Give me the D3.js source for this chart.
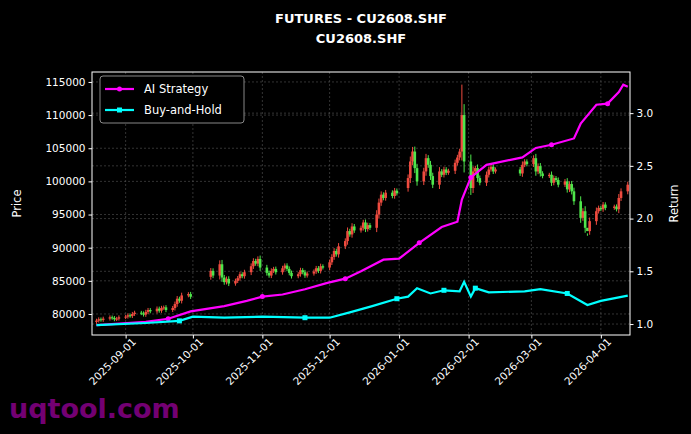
<!DOCTYPE html>
<html><head><meta charset="utf-8">
<script src="https://cdn.jsdelivr.net/npm/d3@7"></script>
<style>body{margin:0;background:#000}svg{font-family:"DejaVu Sans",sans-serif}</style>
</head><body><div id="chart"></div>
<script>
// trading days (holidays skipped)
var holidays = ["2025-10-01","2025-10-02","2025-10-03","2025-10-06","2025-10-07","2025-10-08",
  "2026-01-01","2026-01-02","2026-02-16","2026-02-17","2026-02-18","2026-02-19","2026-02-20","2026-02-23","2026-04-06"];
// daily closes (thousands)
var closes = [
  79.0,79.2,79.1,79.3,79.5,79.4,79.2,79.3,79.5,
  79.6,79.8,79.7,80.0,80.2, 80.1,79.9,80.3,80.6,80.4, 80.8,80.5,80.9,81.0,80.6, 80.9,81.5,82.3,82.0,82.8, 83.0,82.6,
  86.5,85.8, 87.5,85.5,84.8,85.3,84.6, 85.0,85.4,86.0,85.7,86.3, 87.2,88.0,87.6,88.3,87.0,
  86.2,85.8,86.5,86.8,86.3, 86.9,87.3,86.8,86.2,85.7, 86.0,86.6,86.3,85.8,86.1, 86.4,86.9,86.5,87.2,87.0,
  87.8,88.6,89.5,89.0,90.2, 91.0,92.5,92.0,93.2,92.6, 93.0,93.8,92.8,93.4,93.0, 95.0,96.8,98.0,97.5,98.3, 97.8,98.6,98.2,
  100.5,103.0,104.5,102.0,100.0, 101.5,103.5,102.5,100.8,99.5, 101.5,101.0,101.8,101.3,101.6, 102.8,103.6,104.5,110.0,103.0,
  99.0,101.5,102.0,100.5,99.8, 101.0,101.8,102.2,101.5,101.8,
  101.2,102.5,103.0,102.6,
  103.5,101.5,102.3,101.2,100.8, 101.0,99.8,100.5,100.2,99.5, 100.0,98.8,99.6,98.5,97.0, 94.5,95.5,93.0,92.5,94.0, 95.5,96.0,
  95.8,96.5,96.0, 96.2,95.8,97.5,98.5, 99.5
];
// opening gaps after holidays (thousands)
var gapOpens = { "2025-10-09": 85.6, "2026-01-05": 99.0 };
var spikeHighs = { "2026-01-29": 114.6, "2026-01-07": 105.2, "2026-03-26": 91.8 };
var aiDates = ["2025-08-19","2025-09-10","2025-09-20","2025-09-30","2025-10-15","2025-10-25","2025-11-01","2025-11-10","2025-11-20","2025-11-30","2025-12-08","2025-12-15","2025-12-25","2026-01-01","2026-01-10","2026-01-20","2026-01-27","2026-01-29","2026-02-02","2026-02-09","2026-02-25","2026-03-03","2026-03-10","2026-03-20","2026-03-23","2026-03-30","2026-04-04","2026-04-09","2026-04-11","2026-04-13"];
var aiValues = [0.99,1.02,1.05,1.12,1.17,1.22,1.26,1.28,1.33,1.39,1.43,1.50,1.61,1.62,1.77,1.92,1.97,2.18,2.39,2.51,2.58,2.67,2.70,2.76,2.90,3.08,3.09,3.20,3.27,3.25];
var bhDates = ["2025-08-19","2025-09-10","2025-09-25","2025-10-01","2025-10-15","2025-11-01","2025-11-20","2025-12-01","2025-12-10","2025-12-20","2025-12-31","2026-01-05","2026-01-09","2026-01-15","2026-01-21","2026-01-28","2026-01-30","2026-02-02","2026-02-04","2026-02-10","2026-02-26","2026-03-05","2026-03-17","2026-03-26","2026-04-01","2026-04-13"];
var bhValues = [0.99,1.01,1.03,1.07,1.06,1.07,1.06,1.06,1.11,1.17,1.24,1.26,1.34,1.29,1.32,1.31,1.40,1.26,1.34,1.30,1.31,1.33,1.29,1.18,1.22,1.27];
var xTicks = ["2025-09-01","2025-10-01","2025-11-01","2025-12-01","2026-01-01","2026-02-01","2026-03-01","2026-04-01"];

var parse = d3.timeParse("%Y-%m-%d"), fmt = d3.timeFormat("%Y-%m-%d");
var days = [];
for (var d = parse("2025-08-19"); d <= parse("2026-04-13"); d = d3.timeDay.offset(d, 1)) {
  if (d.getDay() === 0 || d.getDay() === 6 || holidays.indexOf(fmt(d)) >= 0) continue;
  days.push(new Date(d));
}
var candles = closes.map(function (c, i) {
  var key = fmt(days[i]);
  var o = gapOpens[key] || (i === 0 ? c - 0.2 : closes[i - 1]);
  var pad = 0.25 + 0.2 * Math.abs(c - o);
  return { date: days[i], o: o * 1000, c: c * 1000,
    h: (spikeHighs[key] || Math.max(o, c) + pad) * 1000, l: (Math.min(o, c) - pad) * 1000 };
});

var margin = { top: 72, right: 61, bottom: 99, left: 92 },
  width = 691 - margin.left - margin.right,
  height = 434 - margin.top - margin.bottom;

var svg = d3.select("#chart").append("svg").attr("width", 691).attr("height", 434)
  .style("background", "#000");
var g = svg.append("g").attr("transform", "translate(" + margin.left + "," + margin.top + ")");

var x = d3.scaleTime().domain([parse("2025-08-17"), parse("2026-04-14")]).range([0, width]);
var y = d3.scaleLinear().domain([76830, 116500]).range([height, 0]);
var y2 = d3.scaleLinear().domain([0.896, 3.39]).range([height, 0]);

// grid
var grid = g.append("g").attr("stroke", "#555").attr("stroke-dasharray", "2,2").attr("stroke-width", 0.6);
xTicks.forEach(function (t) { grid.append("line").attr("x1", x(parse(t))).attr("x2", x(parse(t))).attr("y1", 0).attr("y2", height); });
d3.range(80000, 116000, 5000).forEach(function (v) { grid.append("line").attr("x1", 0).attr("x2", width).attr("y1", y(v)).attr("y2", y(v)); });
[1.0, 1.5, 2.0, 2.5, 3.0].forEach(function (v) { grid.append("line").attr("x1", 0).attr("x2", width).attr("y1", y2(v)).attr("y2", y2(v)); });

// candles (red up, green down)
var cg = g.append("g");
candles.forEach(function (c) {
  var col = c.c >= c.o ? "#ef4b3f" : "#4ee64b";
  var cx = x(c.date);
  cg.append("line").attr("x1", cx).attr("x2", cx).attr("y1", y(c.h)).attr("y2", y(c.l)).attr("stroke", col).attr("stroke-width", 1);
  cg.append("rect").attr("x", cx - 1.3).attr("width", 2.6)
    .attr("y", y(Math.max(c.o, c.c))).attr("height", Math.max(1, Math.abs(y(c.o) - y(c.c)))).attr("fill", col);
});

function drawLine(dates, vals, col, shape) {
  var pts = dates.map(function (d, i) { return [x(parse(d)), y2(vals[i])]; });
  g.append("path").attr("d", d3.line()(pts)).attr("fill", "none").attr("stroke", col).attr("stroke-width", 2.2);
  pts.forEach(function (p, i) {
    if (i % 4 !== 2) return;
    if (shape === "circle") g.append("circle").attr("cx", p[0]).attr("cy", p[1]).attr("r", 2.5).attr("fill", col);
    else g.append("rect").attr("x", p[0] - 2.5).attr("y", p[1] - 2.5).attr("width", 5).attr("height", 5).attr("fill", col);
  });
}
drawLine(aiDates, aiValues, "#ff00ff", "circle");
drawLine(bhDates, bhValues, "#00ffff", "square");

// frame
g.append("rect").attr("width", width).attr("height", height).attr("fill", "none").attr("stroke", "#fff").attr("stroke-width", 1);

// axes
function style(a) { a.selectAll("path").remove(); a.selectAll("line").attr("stroke", "#fff"); a.selectAll("text").attr("fill", "#fff").style("font-size", "10.5px").style("font-family", "DejaVu Sans"); }
g.append("g").call(d3.axisLeft(y).tickValues(d3.range(80000, 116000, 5000)).tickFormat(d3.format("d")).tickSize(3.5)).call(style);
g.append("g").attr("transform", "translate(" + width + ",0)")
  .call(d3.axisRight(y2).tickValues([1.0, 1.5, 2.0, 2.5, 3.0]).tickFormat(d3.format(".1f")).tickSize(3.5)).call(style);
var xa = g.append("g").attr("transform", "translate(0," + height + ")")
  .call(d3.axisBottom(x).tickValues(xTicks.map(parse)).tickFormat(fmt).tickSize(3.5)).call(style);
xa.selectAll("text").attr("text-anchor", "end").attr("dx", "0.2em").attr("dy", "0.6em").attr("transform", "rotate(-45)");

svg.append("text").attr("transform", "translate(21," + (margin.top + height / 2) + ") rotate(-90)")
  .attr("text-anchor", "middle").attr("fill", "#fff").style("font-size", "11.5px").text("Price");
svg.append("text").attr("transform", "translate(678," + (margin.top + height / 2) + ") rotate(-90)")
  .attr("text-anchor", "middle").attr("fill", "#fff").style("font-size", "11.5px").text("Return");

// title
svg.append("text").attr("x", 361).attr("y", 23).attr("text-anchor", "middle").attr("fill", "#fff")
  .style("font-size", "13px").style("font-weight", "bold").text("FUTURES - CU2608.SHF");
svg.append("text").attr("x", 361).attr("y", 43).attr("text-anchor", "middle").attr("fill", "#fff")
  .style("font-size", "13px").style("font-weight", "bold").text("CU2608.SHF");

// legend
var lg = svg.append("g").attr("transform", "translate(100,76)");
lg.append("rect").attr("width", 144).attr("height", 47).attr("rx", 3).attr("fill", "#000").attr("stroke", "#aaa").attr("stroke-width", 0.8);
[["AI Strategy", "#ff00ff", "circle"], ["Buy-and-Hold", "#00ffff", "square"]].forEach(function (it, i) {
  var yy = 13 + i * 21;
  lg.append("line").attr("x1", 5).attr("x2", 34).attr("y1", yy).attr("y2", yy).attr("stroke", it[1]).attr("stroke-width", 2.2);
  if (it[2] === "circle") lg.append("circle").attr("cx", 19.5).attr("cy", yy).attr("r", 2.5).attr("fill", it[1]);
  else lg.append("rect").attr("x", 17).attr("y", yy - 2.5).attr("width", 5).attr("height", 5).attr("fill", it[1]);
  lg.append("text").attr("x", 44).attr("y", yy + 4).attr("fill", "#fff").style("font-size", "11.5px").text(it[0]);
});

// watermark
svg.append("text").attr("x", 9).attr("y", 418).attr("fill", "#800080").style("font-size", "27px").style("font-weight", "bold").attr("opacity", 0.9).text("uqtool.com");
</script></body></html>
